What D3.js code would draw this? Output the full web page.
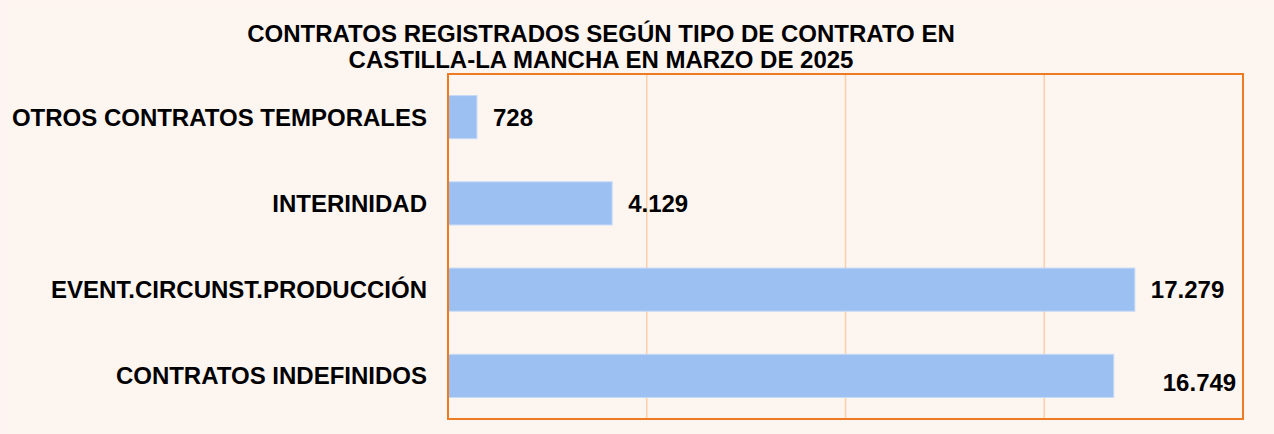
<!DOCTYPE html>
<html><head><meta charset="utf-8">
<script src="https://cdn.jsdelivr.net/npm/d3@7"></script>
<style>
html,body{margin:0;padding:0;background:#FEF4F2;}
svg{display:block;}
</style></head>
<body><svg id="chart" width="1274" height="434"></svg>
<script>
const categories = ["OTROS CONTRATOS TEMPORALES","INTERINIDAD","EVENT.CIRCUNST.PRODUCCIÓN","CONTRATOS INDEFINIDOS"];
const values = [728, 4129, 17279, 16749];
const valueLabels = ["728","4.129","17.279","16.749"];
const gridTicks = [5000, 10000, 15000];
const titleLines = ["CONTRATOS REGISTRADOS SEGÚN TIPO DE CONTRATO EN","CASTILLA-LA MANCHA EN MARZO DE 2025"];

const svg = d3.select("#chart");
svg.append("rect").attr("x",7).attr("y",1).attr("width",1267).attr("height",433).attr("fill","#FDF5F0");

const plot = {left:448, right:1243, top:74, bottom:419};
const x = d3.scaleLinear().domain([0,20000]).range([plot.left, plot.right]);
const y = d3.scaleBand().domain(categories).range([plot.top, plot.bottom]).paddingInner(0.5).paddingOuter(0.25);

// gridlines
svg.append("g").selectAll("line").data(gridTicks).join("line")
  .attr("x1", d=>x(d)).attr("x2", d=>x(d))
  .attr("y1", plot.top).attr("y2", plot.bottom)
  .attr("stroke","#FCCFA6").attr("stroke-width",1.5);

// bars
svg.append("g").selectAll("rect").data(values).join("rect")
  .attr("x", x(0))
  .attr("y", (d,i)=>y(categories[i]))
  .attr("width", d=>x(d)-x(0))
  .attr("height", y.bandwidth())
  .attr("fill","#9BC0F1")
  .attr("stroke","#C4DAF6").attr("stroke-width",1);

// plot border
svg.append("rect").attr("x",plot.left).attr("y",plot.top)
  .attr("width",plot.right-plot.left).attr("height",plot.bottom-plot.top)
  .attr("fill","none").attr("stroke","#EE7A22").attr("stroke-width",2);

// category labels
const yAxis = d3.axisLeft(y).tickSize(0).tickPadding(21);
const ya = svg.append("g").attr("transform",`translate(${plot.left},0)`).call(yAxis);
ya.select(".domain").remove();
ya.selectAll("text").attr("font-family","'Liberation Sans', Arial, sans-serif")
  .attr("font-weight","bold").attr("font-size","24px").attr("fill","#000")
  .attr("dy","0.35em");

// value labels
const labelShift = [[16,0],[16,0],[16,0],[49,7]];
svg.append("g").selectAll("text").data(values).join("text")
  .attr("x",(d,i)=>x(d)+labelShift[i][0])
  .attr("y",(d,i)=>y(categories[i])+y.bandwidth()/2+labelShift[i][1])
  .attr("dy","0.35em")
  .attr("font-family","'Liberation Sans', Arial, sans-serif")
  .attr("font-weight","bold").attr("font-size","24px").attr("fill","#000")
  .text((d,i)=>valueLabels[i]);

// title
svg.append("g").selectAll("text").data(titleLines).join("text")
  .attr("x",601).attr("y",(d,i)=>42+i*26)
  .attr("text-anchor","middle")
  .attr("font-family","'Liberation Sans', Arial, sans-serif")
  .attr("font-weight","bold").attr("font-size","24px").attr("fill","#000")
  .text(d=>d);
</script></body></html>
